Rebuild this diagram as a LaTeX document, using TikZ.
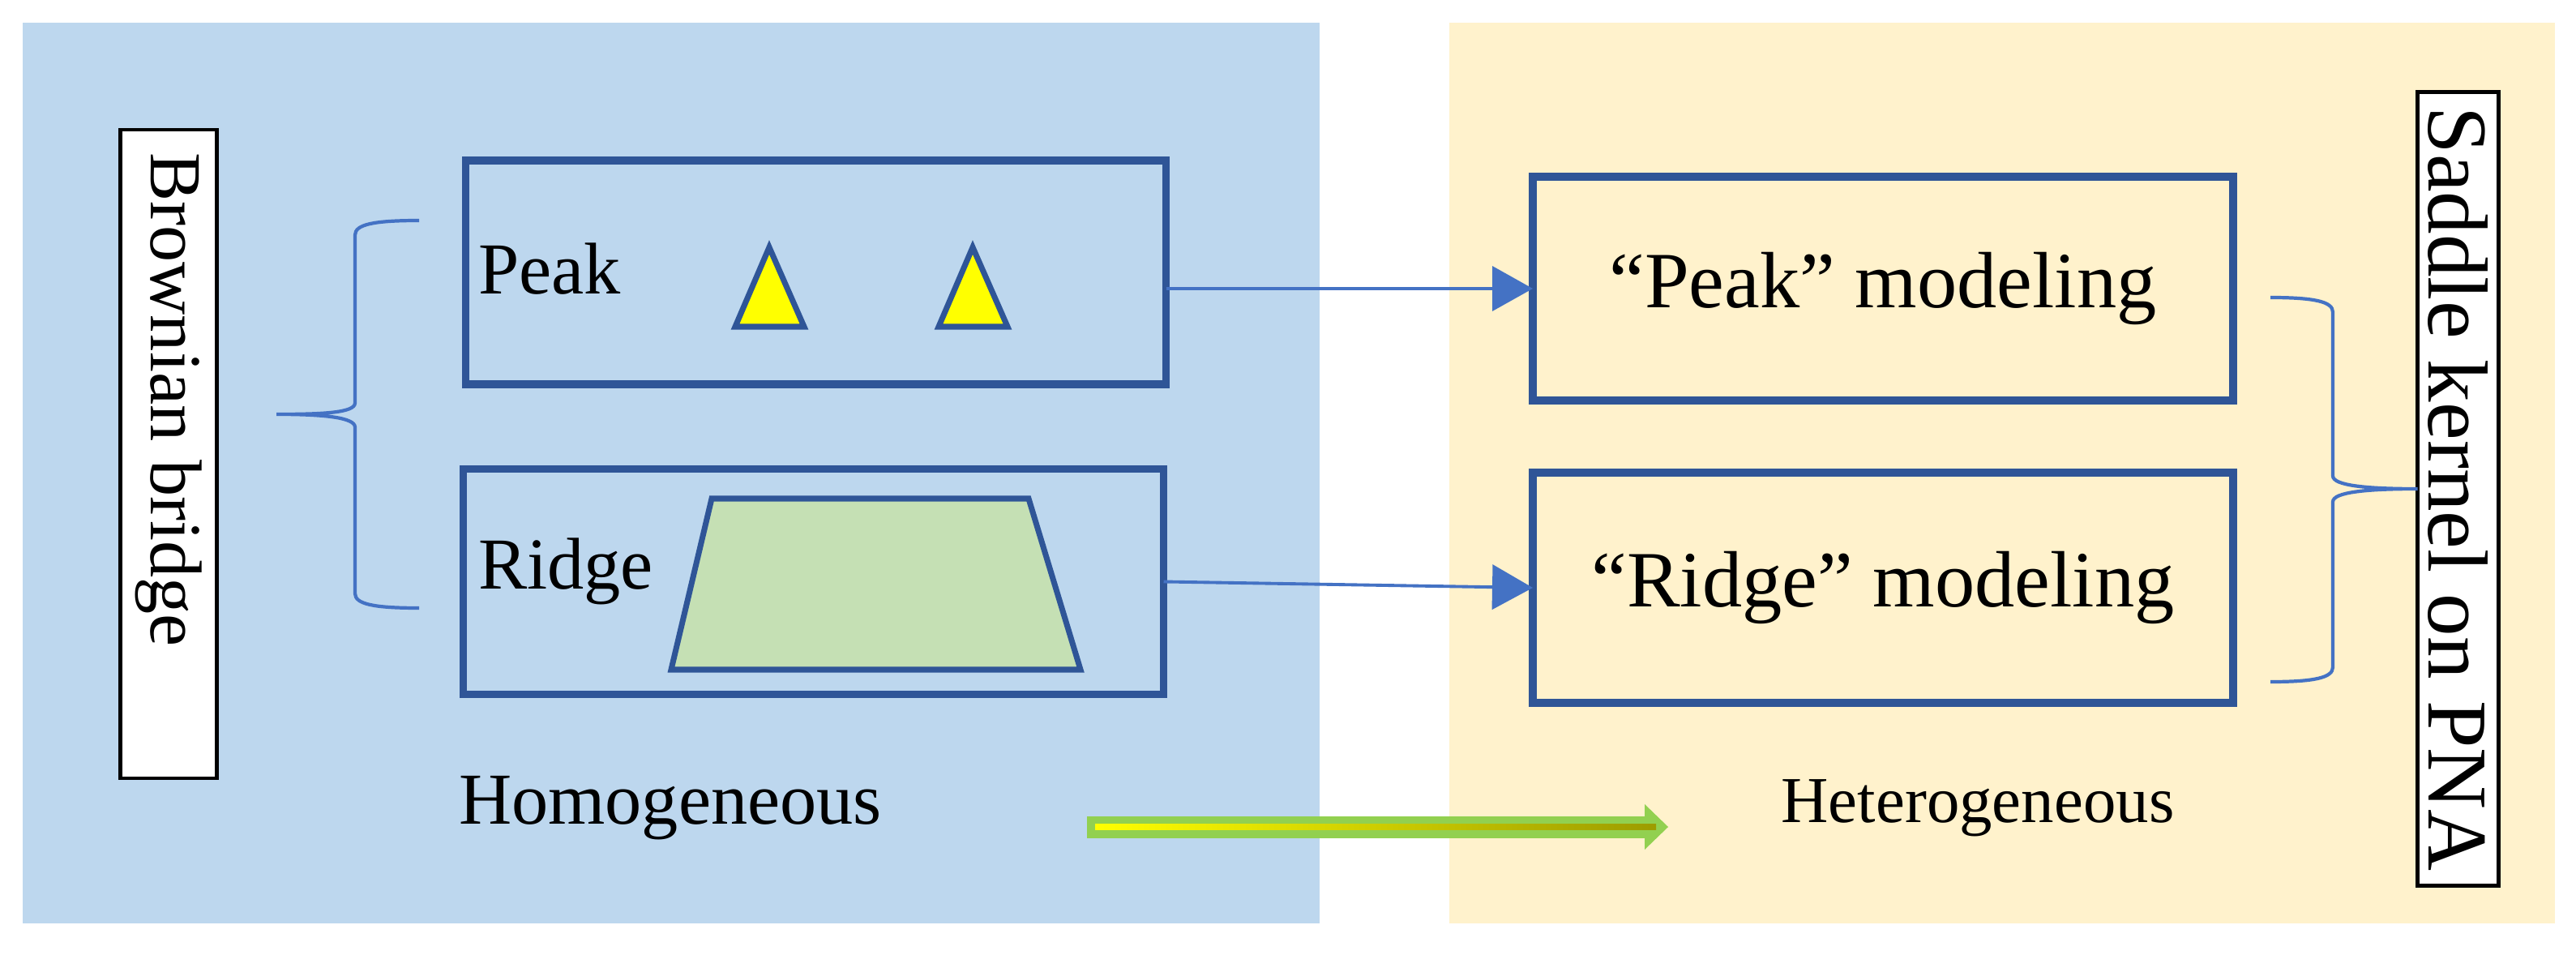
\documentclass[tikz,border=0pt]{standalone}
\usepackage{fontspec}
\setmainfont{Liberation Serif}
\usetikzlibrary{arrows.meta, positioning, calc}
\definecolor{homblue}{HTML}{BDD7EE}
\definecolor{hetcream}{HTML}{FFF2CC}
\definecolor{boxblue}{HTML}{2F5597}
\definecolor{linkblue}{HTML}{4472C4}
\definecolor{ridgegreen}{HTML}{C5E0B4}
\definecolor{peakyellow}{HTML}{FFFF00}
\definecolor{arrowgreen}{HTML}{92D050}
\definecolor{arrowolive}{HTML}{9C9C00}

\begin{document}
\begin{tikzpicture}[
  >={Triangle[length=5mm, width=5.5mm]},
  every node/.style={inner sep=0pt, outer sep=0pt},
  groupbox/.style={draw=boxblue, line width=2.8pt, minimum width=8.64cm},
  sidebox/.style={draw=black, fill=white, line width=1.4pt, rotate=-90},
  link/.style={linkblue, line width=1.1pt, ->},
  bracket/.style={linkblue, line width=1.2pt},
  peakshape/.style={draw=boxblue, fill=peakyellow, line width=2pt},
]

% Canvas
\useasboundingbox (0,0) rectangle (31.78,11.77);
\fill[white] (0,0) rectangle (31.78,11.77);

% Background panels
\fill[homblue] (0.28,0.38) rectangle (16.28,11.49);
\fill[hetcream] (17.88,0.38) rectangle (31.52,11.49);

% --- Left side label ---
\node[sidebox, minimum width=8cm, minimum height=1.19cm] (bridgebox) at (2.08,6.17) {};
\node[rotate=-90, font=\fontsize{25.7}{30}\selectfont] (bridge) at (2.08,6.84)
  {Brownian bridge};

% --- Left brace ---
\draw[bracket] (5.17,9.05) .. controls (4.6,9.05) and (4.38,9.0) .. (4.38,8.87)
  -- (4.38,6.80) .. controls (4.38,6.68) and (4.0,6.66) .. (3.41,6.66)
  .. controls (4.0,6.66) and (4.38,6.62) .. (4.38,6.50)
  -- (4.38,4.45) .. controls (4.38,4.32) and (4.6,4.27) .. (5.17,4.27);

% --- Homogeneous boxes ---
\node[groupbox, minimum height=2.76cm] (peak) at (10.065,8.41) {};
\node[groupbox, minimum height=2.78cm] (ridge) at (10.035,4.595) {};

\node[anchor=west, font=\fontsize{25.7}{30}\selectfont] (peaktxt) at (5.90,8.45) {Peak};
\node[anchor=west, font=\fontsize{25.7}{30}\selectfont] (ridgetxt) at (5.90,4.72) {Ridge};

% Peaks
\draw[peakshape] (9.49,8.72) -- (9.92,7.74) -- (9.07,7.74) -- cycle;
\draw[peakshape] (12.00,8.72) -- (12.43,7.74) -- (11.58,7.74) -- cycle;

% Ridge
\fill[ridgegreen, draw=boxblue, line width=2pt]
  (8.78,5.62) -- (12.69,5.62) -- (13.33,3.51) -- (8.28,3.51) -- cycle;

% --- Heterogeneous boxes ---
\node[groupbox, minimum height=2.76cm, font=\fontsize{28}{33}\selectfont] (peakm)
  at (23.23,8.21) {“Peak” modeling};
\node[groupbox, minimum height=2.84cm, font=\fontsize{28}{33}\selectfont] (ridgem)
  at (23.23,4.52) {“Ridge” modeling};

% --- Links ---
\draw[link] (peak.east |- peakm.west) -- (peakm.west);
\draw[link] (ridge.east) -- (ridgem.west);

% --- Right side label ---
\node[sidebox, minimum width=9.79cm, minimum height=1.0cm,
  font=\fontsize{29.9}{34}\selectfont] (saddle) at (30.325,5.74)
  {Saddle kernel on PNA};

% --- Right brace ---
\draw[bracket] (28.01,8.10) .. controls (28.55,8.10) and (28.78,8.05) .. (28.78,7.92)
  -- (28.78,5.90) .. controls (28.78,5.78) and (29.2,5.74) .. (saddle.south)
  .. controls (29.2,5.74) and (28.78,5.70) .. (28.78,5.58)
  -- (28.78,3.54) .. controls (28.78,3.41) and (28.55,3.36) .. (28.01,3.36);

% --- Bottom captions ---
\node[font=\fontsize{25.7}{30}\selectfont] (homo) at (8.27,1.80) {Homogeneous};
\node[font=\fontsize{23}{28}\selectfont] (hetero) at (24.40,1.80) {Heterogeneous};

% --- Green transition arrow ---
\fill[arrowgreen] (13.41,1.435) rectangle (20.31,1.705);
\fill[arrowgreen] (20.29,1.85) -- (20.58,1.57) -- (20.29,1.29) -- cycle;
\shade[left color=peakyellow, right color=arrowolive] (13.51,1.535) rectangle (20.43,1.605);

\end{tikzpicture}
\end{document}
